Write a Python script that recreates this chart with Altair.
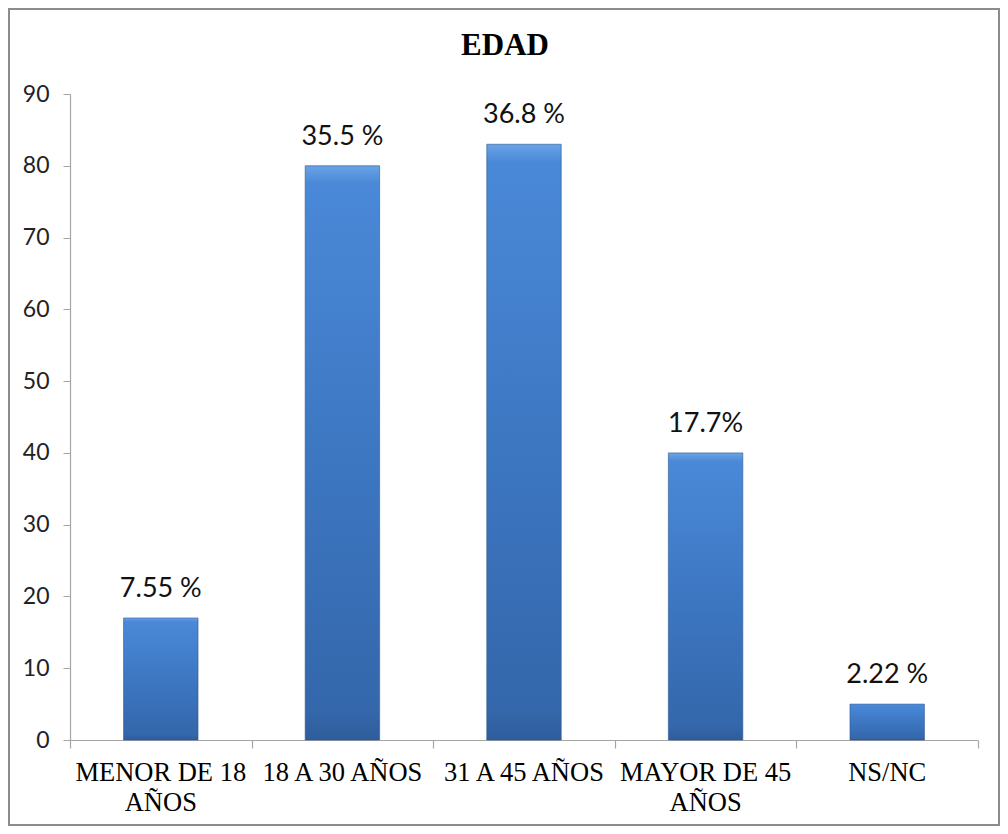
import altair as alt
import pandas as pd

categories = ["MENOR DE 18 AÑOS", "18 A 30 AÑOS", "31 A 45 AÑOS", "MAYOR DE 45 AÑOS", "NS/NC"]
label_lines = [["MENOR DE 18", "AÑOS"], ["18 A 30 AÑOS"], ["31 A 45 AÑOS"], ["MAYOR DE 45", "AÑOS"], ["NS/NC"]]
values = [17, 80, 83, 40, 5]
pct_labels = ["7.55 %", "35.5 %", "36.8 %", "17.7%", "2.22 %"]
y_ticks = [0, 10, 20, 30, 40, 50, 60, 70, 80, 90]
boundaries = [0, 1, 2, 3, 4, 5]
title_text = "EDAD"

df = pd.DataFrame({"cat": categories, "val": values, "lab": pct_labels})
bdf = pd.DataFrame({"b": boundaries})
fdf = pd.DataFrame({"f": [0]})

W, H = 908, 646

# label expression for wrapped category labels
expr = "datum.label"
for cat, lines in reversed(list(zip(categories, label_lines))):
    arr = "[" + ",".join("'" + l + "'" for l in lines) + "]"
    expr = f"datum.label == '{cat}' ? {arr} : ({expr})"

grad = alt.Gradient(
    gradient="linear", x1=0, y1=0, x2=0, y2=1,
    stops=[
        alt.GradientStop(offset=0, color="#6aa3e6"),
        alt.GradientStop(offset=0.03, color="#4a89d8"),
        alt.GradientStop(offset=0.5, color="#3d77c2"),
        alt.GradientStop(offset=0.95, color="#3467ab"),
        alt.GradientStop(offset=1, color="#2f5d9b"),
    ],
)

x_enc = alt.X(
    "cat:N", sort=categories, title=None,
    scale=alt.Scale(paddingInner=0.59, paddingOuter=0.295),
    axis=alt.Axis(
        ticks=False, domain=True, domainColor="#a6a6a6", domainWidth=1.2,
        labelFont="Liberation Serif", labelFontSize=26.5, labelColor="#000000",
        labelAngle=0, labelBaseline="alphabetic", labelPadding=40,
        labelLineHeight=30, labelLimit=0, labelExpr=expr,
    ),
)
y_enc = alt.Y(
    "val:Q", title=None,
    scale=alt.Scale(domain=[0, 90], nice=False),
    axis=alt.Axis(
        values=y_ticks, grid=False, domainColor="#a6a6a6", domainWidth=1.2,
        tickColor="#a6a6a6", tickSize=7, labelPadding=14,
        labelFont="Lato", labelFontSize=23, labelColor="#222222",
    ),
)

bars = alt.Chart(df).mark_bar(color=grad, stroke="#2c568f", strokeWidth=0.6).encode(x=x_enc, y=y_enc)
texts = alt.Chart(df).mark_text(
    font="Lato", fontSize=27, color="#111111", baseline="alphabetic", dy=-21
).encode(x=alt.X("cat:N", sort=categories), y="val:Q", text="lab:N")
main = alt.layer(bars, texts)

ticks = alt.Chart(bdf).mark_point(opacity=0).encode(
    x=alt.X("b:Q", title=None, scale=alt.Scale(domain=[0, 5], nice=False, zero=False),
            axis=alt.Axis(values=boundaries, labels=False, domain=False, ticks=True,
                          tickSize=8, tickColor="#a6a6a6", tickWidth=1.2, grid=False, orient="bottom"))
)

frame = alt.Chart(fdf).mark_rect(fillOpacity=0, stroke="#8c8c8c", strokeWidth=2).encode(
    x=alt.value(-61), x2=alt.value(W + 21), y=alt.value(-85), y2=alt.value(H + 85)
)

chart = alt.layer(frame, main, ticks).resolve_scale(x="independent").properties(
    width=W, height=H,
    padding={"left": 62, "top": 86, "right": 22, "bottom": 86},
    autosize="none",
    title=alt.TitleParams(
        title_text, font="Liberation Serif", fontSize=31, fontWeight="bold",
        color="#000000", anchor="middle", baseline="alphabetic", offset=0, dy=78, dx=-19,
    ),
    background="white",
).configure_view(stroke=None)

chart.save("out.html", embed_options={"renderer": "svg", "actions": False})
